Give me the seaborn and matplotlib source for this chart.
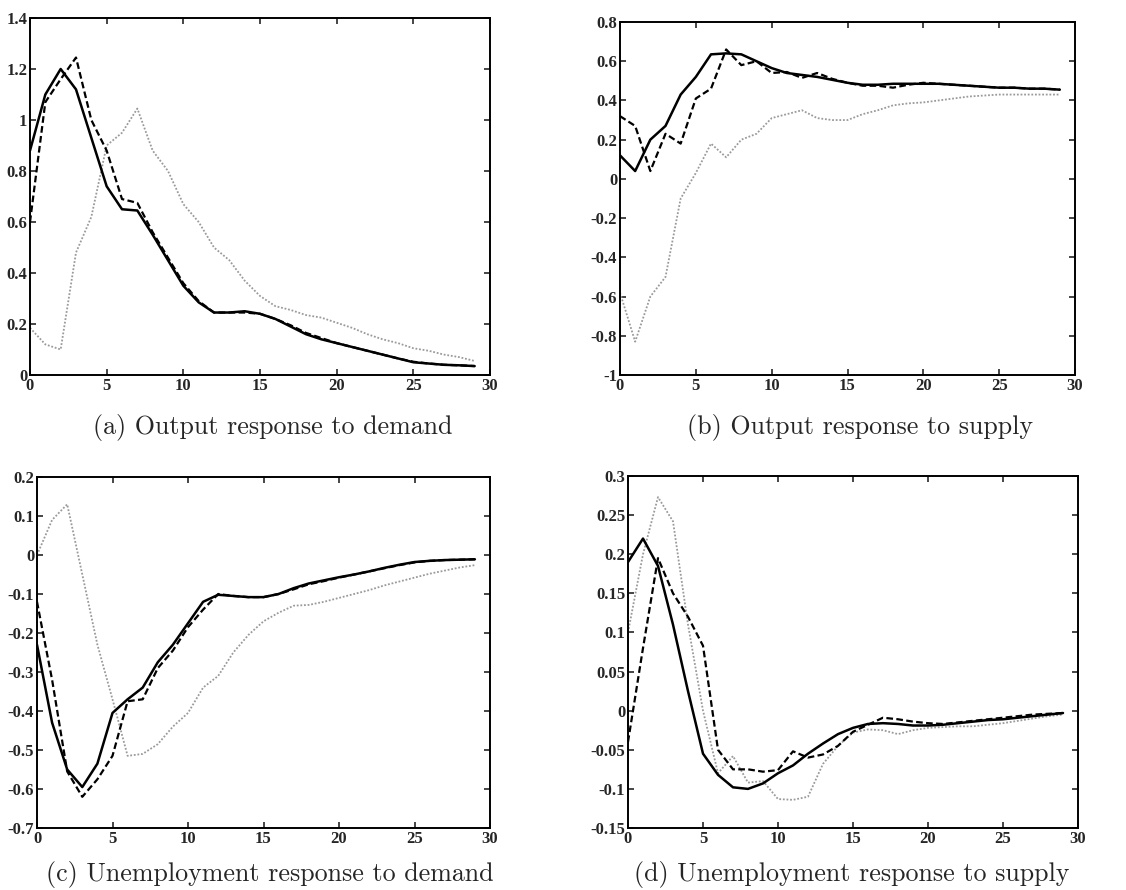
import numpy as np
import pandas as pd
import matplotlib
matplotlib.use("Agg")
import matplotlib.pyplot as plt
import seaborn as sns
from matplotlib.ticker import FuncFormatter, MultipleLocator

t = list(range(30))

# (a) Output response to demand
a_solid = [0.88, 1.10, 1.20, 1.12, 0.93, 0.74, 0.65, 0.645, 0.55, 0.45, 0.35, 0.285, 0.245, 0.245, 0.25,
           0.24, 0.22, 0.19, 0.16, 0.14, 0.125, 0.11, 0.095, 0.08, 0.065, 0.05, 0.045, 0.04, 0.038, 0.035]
a_dash = [0.60, 1.07, 1.16, 1.245, 1.00, 0.88, 0.69, 0.675, 0.56, 0.46, 0.36, 0.29, 0.245, 0.245, 0.245,
          0.24, 0.22, 0.195, 0.165, 0.145, 0.125, 0.11, 0.095, 0.08, 0.065, 0.052, 0.045, 0.04, 0.038, 0.035]
a_dot = [0.185, 0.12, 0.10, 0.48, 0.62, 0.90, 0.95, 1.045, 0.88, 0.80, 0.67, 0.60, 0.50, 0.45, 0.37,
         0.31, 0.27, 0.255, 0.235, 0.225, 0.205, 0.185, 0.16, 0.14, 0.125, 0.105, 0.095, 0.08, 0.07, 0.055]

# (b) Output response to supply
b_solid = [0.12, 0.04, 0.20, 0.27, 0.43, 0.52, 0.635, 0.64, 0.635, 0.60, 0.565, 0.54, 0.53, 0.52, 0.505,
           0.49, 0.48, 0.48, 0.485, 0.485, 0.485, 0.485, 0.48, 0.475, 0.47, 0.465, 0.465, 0.46, 0.46, 0.455]
b_dash = [0.32, 0.27, 0.04, 0.23, 0.18, 0.41, 0.46, 0.66, 0.58, 0.60, 0.54, 0.545, 0.515, 0.54, 0.51,
          0.49, 0.475, 0.475, 0.465, 0.48, 0.49, 0.485, 0.48, 0.475, 0.47, 0.465, 0.465, 0.46, 0.46, 0.455]
b_dot = [-0.58, -0.83, -0.60, -0.50, -0.10, 0.03, 0.18, 0.11, 0.20, 0.23, 0.31, 0.33, 0.35, 0.31, 0.30,
         0.30, 0.33, 0.35, 0.375, 0.385, 0.39, 0.40, 0.41, 0.42, 0.425, 0.43, 0.43, 0.43, 0.43, 0.43]

# (c) Unemployment response to demand
c_solid = [-0.23, -0.43, -0.55, -0.595, -0.535, -0.405, -0.37, -0.34, -0.275, -0.23, -0.175, -0.12, -0.102,
           -0.105, -0.108, -0.108, -0.10, -0.085, -0.073, -0.065, -0.057, -0.05, -0.042, -0.033, -0.025,
           -0.018, -0.015, -0.013, -0.012, -0.011]
c_dash = [-0.12, -0.32, -0.555, -0.62, -0.575, -0.515, -0.375, -0.37, -0.29, -0.245, -0.185, -0.14, -0.10,
          -0.105, -0.108, -0.108, -0.10, -0.088, -0.075, -0.067, -0.058, -0.05, -0.042, -0.034, -0.026,
          -0.019, -0.015, -0.013, -0.012, -0.011]
c_dot = [0.0, 0.09, 0.13, -0.05, -0.23, -0.37, -0.515, -0.51, -0.485, -0.44, -0.405, -0.34, -0.31, -0.25,
         -0.205, -0.17, -0.148, -0.13, -0.128, -0.12, -0.11, -0.10, -0.09, -0.078, -0.068, -0.058, -0.048,
         -0.04, -0.032, -0.026]

# (d) Unemployment response to supply
d_solid = [0.19, 0.22, 0.185, 0.11, 0.025, -0.055, -0.082, -0.098, -0.10, -0.093, -0.08, -0.07, -0.055,
           -0.042, -0.03, -0.022, -0.017, -0.016, -0.017, -0.019, -0.019, -0.018, -0.016, -0.014, -0.012,
           -0.011, -0.009, -0.007, -0.005, -0.003]
d_dash = [-0.04, 0.08, 0.195, 0.15, 0.12, 0.083, -0.05, -0.075, -0.075, -0.078, -0.076, -0.052, -0.06,
          -0.056, -0.045, -0.027, -0.018, -0.009, -0.011, -0.014, -0.016, -0.017, -0.015, -0.013, -0.011,
          -0.009, -0.007, -0.005, -0.004, -0.003]
d_dot = [0.10, 0.20, 0.273, 0.242, 0.11, 0.0, -0.08, -0.058, -0.092, -0.09, -0.113, -0.114, -0.11, -0.068,
         -0.045, -0.028, -0.024, -0.025, -0.03, -0.025, -0.022, -0.021, -0.02, -0.02, -0.018, -0.016,
         -0.013, -0.01, -0.007, -0.005]

captions = ["(a) Output response to demand", "(b) Output response to supply",
            "(c) Unemployment response to demand", "(d) Unemployment response to supply"]

panels = [
    (a_solid, a_dash, a_dot, (0, 1.4), 0.2),
    (b_solid, b_dash, b_dot, (-1, 0.8), 0.2),
    (c_solid, c_dash, c_dot, (-0.7, 0.2), 0.1),
    (d_solid, d_dash, d_dot, (-0.15, 0.3), 0.05),
]

# axes rectangles in pixels: left, right, top, bottom
W, H = 1126, 890
rects = [(30, 490, 18, 375), (620, 1075, 22, 375), (37, 490, 477, 828), (628, 1078, 476, 828)]
cap_pos = [(273, 427), (860, 427), (270, 875), (852, 875)]

sns.set_style("ticks")
plt.rcParams["font.family"] = ["Liberation Serif", "DejaVu Serif"]

fig = plt.figure(figsize=(W / 100, H / 100), dpi=100)

fmt = FuncFormatter(lambda v, p: f"{round(v, 6):g}" if abs(v) > 1e-9 else "0")

for (s, dsh, dt, ylim, ystep), (l, r, tp, b), cap, (cx, cy) in zip(panels, rects, captions, cap_pos):
    ax = fig.add_axes([l / W, 1 - b / H, (r - l) / W, (b - tp) / H])
    df = pd.DataFrame({"t": t, "solid": s, "dash": dsh, "dot": dt})
    sns.lineplot(data=df, x="t", y="dot", ax=ax, color="#9a9a9a", linewidth=1.3, linestyle=(0, (1, 1)))
    sns.lineplot(data=df, x="t", y="dash", ax=ax, color="black", linewidth=1.6, linestyle=(0, (3, 1.5)))
    sns.lineplot(data=df, x="t", y="solid", ax=ax, color="black", linewidth=1.8)
    ax.set_xlim(0, 30)
    ax.set_ylim(*ylim)
    ax.xaxis.set_major_locator(MultipleLocator(5))
    ax.yaxis.set_major_locator(MultipleLocator(ystep))
    ax.yaxis.set_major_formatter(fmt)
    ax.xaxis.set_major_formatter(fmt)
    ax.set_xlabel("")
    ax.set_ylabel("")
    for sp in ax.spines.values():
        sp.set_visible(True)
        sp.set_linewidth(1.4)
        sp.set_color("black")
    ax.tick_params(direction="in", top=True, right=True, length=4, width=1.2, labelsize=12, pad=2)
    for lab in ax.get_xticklabels() + ax.get_yticklabels():
        lab.set_fontweight("bold")
    fig.text(cx / W, 1 - cy / H, cap, ha="center", va="center", fontsize=18.7, family=["cmr10", "DejaVu Serif"])

fig.savefig("out.png", dpi=100)
